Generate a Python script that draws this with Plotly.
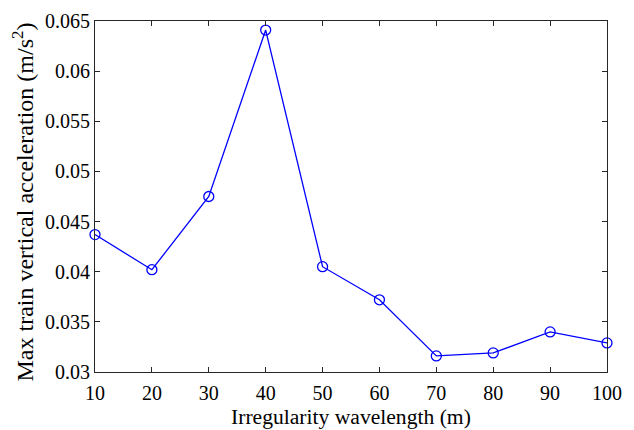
import plotly.graph_objects as go

wavelength = [10, 20, 30, 40, 50, 60, 70, 80, 90, 100]
max_accel = [0.0437, 0.0402, 0.0475, 0.0641, 0.0405, 0.0372, 0.0316, 0.0319, 0.0340, 0.0329]
x_ticks = [10, 20, 30, 40, 50, 60, 70, 80, 90, 100]
y_ticks = [0.03, 0.035, 0.04, 0.045, 0.05, 0.055, 0.06, 0.065]
y_tick_labels = ["0.03", "0.035", "0.04", "0.045", "0.05", "0.055", "0.06", "0.065"]
x_title = "Irregularity wavelength (m)"
y_title = "Max train vertical acceleration (m/s<sup>2</sup>)"

fig = go.Figure()
fig.add_trace(go.Scatter(
    x=wavelength, y=max_accel, mode="lines+markers",
    line=dict(color="#0000ff", width=1.3),
    marker=dict(symbol="circle-open", size=10, color="#0000ff", line=dict(width=1.3)),
    showlegend=False, cliponaxis=False,
))

axis_common = dict(
    showgrid=False, zeroline=False, showline=True, linecolor="#262626", linewidth=1,
    mirror="ticks", ticks="inside", ticklen=5, tickcolor="#262626", automargin=False,
    tickfont=dict(family="Liberation Serif", size=20, color="#000000"),
)
fig.update_xaxes(range=[10, 100], tickvals=x_ticks, ticktext=[str(v) for v in x_ticks],
                 ticklabelstandoff=3, **axis_common)
fig.update_yaxes(range=[0.03, 0.065], tickvals=y_ticks, ticktext=y_tick_labels,
                 **axis_common)
fig.add_annotation(text=x_title, xref="paper", yref="paper", x=0.5, y=0,
                   xanchor="center", yanchor="middle", yshift=-45, showarrow=False,
                   font=dict(family="Liberation Serif", size=21.6, color="#000000"))
fig.add_annotation(text=y_title, xref="paper", yref="paper", x=0, y=0.5,
                   xanchor="center", yanchor="middle", xshift=-73, yshift=-6, textangle=-90, showarrow=False,
                   font=dict(family="Liberation Serif", size=24, color="#000000"))
fig.update_layout(
    width=634, height=430,
    margin=dict(l=95, r=27, t=21, b=58),
    paper_bgcolor="white", plot_bgcolor="white",
)
fig.write_html("out.html", config={"displayModeBar": False},
               post_script="document.body.style.margin='0';document.body.style.overflow='hidden';")
